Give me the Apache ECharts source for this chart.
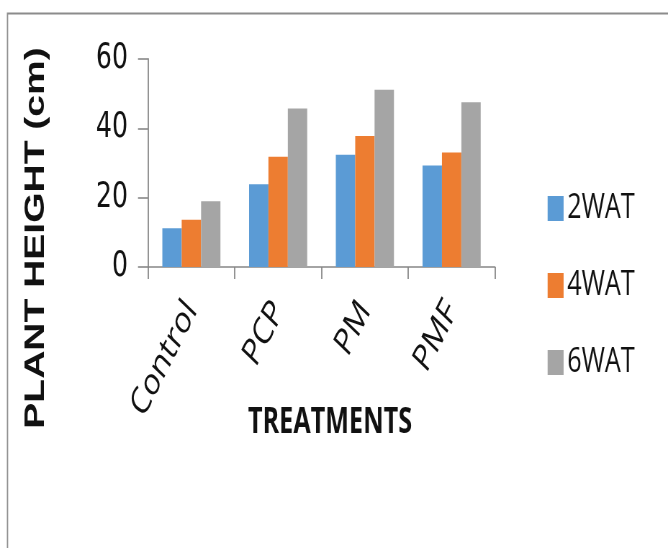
<!DOCTYPE html>
<html><head><meta charset="utf-8">
<script src="https://cdn.jsdelivr.net/npm/echarts@6/dist/echarts.min.js"></script>
<style>
html,body{margin:0;padding:0;background:#fff;overflow:hidden;width:668px;height:548px}
#c{width:928px;height:548px;transform:scaleX(0.71983);transform-origin:0 0}
</style>
</head><body><div id="c"></div>
<script>
const categories = ['Control', 'PCP', 'PM', 'PMF'];
const wat2 = [11.2, 23.9, 32.4, 29.3];
const wat4 = [13.6, 31.8, 37.8, 33.0];
const wat6 = [19.0, 45.7, 51.1, 47.5];
const seriesNames = ['2WAT', '4WAT', '6WAT'];
const yTicks = { min: 0, max: 60, interval: 20 };
const yTitle = 'PLANT HEIGHT (cm)';
const xTitle = 'TREATMENTS';

// the page is drawn on a wider canvas and squeezed horizontally by S
const S = 668 / 928;
const X = v => v / S;
const sans = '"Liberation Sans", Arial, sans-serif';
const open = '"Open Sans", "Noto Sans", sans-serif';
const chart = echarts.init(document.getElementById('c'), null, { renderer: 'canvas' });
const colors = ['#5B9BD5', '#ED7D31', '#A5A5A5'];
const data = [wat2, wat4, wat6];
const axisCol = '#878787';
chart.setOption({
  animation: false,
  color: colors,
  graphic: [
    { type: 'rect', silent: true,
      shape: { x: X(7.5), y: 13.5, width: 1000, height: 600 },
      style: { fill: 'none', stroke: '#8c8c8c', lineWidth: 1.8 } },
    { type: 'text', silent: true, x: X(36), y: 238, rotation: Math.PI / 2,
      style: { text: yTitle, font: 'bold 39px ' + sans, fill: '#111', align: 'center', verticalAlign: 'middle' } },
    { type: 'text', silent: true, x: X(330), y: 423,
      style: { text: xTitle, font: 'bold 35px ' + open, fill: '#111', align: 'center', verticalAlign: 'middle' } }
  ],
  grid: { left: X(148), top: 59, right: X(668 - 495), bottom: 281, containLabel: false },
  legend: {
    orient: 'vertical', left: X(544), top: 186,
    itemWidth: X(16), itemHeight: 25, itemGap: 42, itemTextGap: X(8),
    icon: 'rect',
    textStyle: { fontFamily: open, fontSize: 35, color: '#111' },
    data: seriesNames
  },
  xAxis: {
    type: 'category', data: categories,
    axisLine: { lineStyle: { color: axisCol, width: 1.6 } },
    axisTick: { show: true, length: 12, lineStyle: { color: axisCol, width: 1.8 } },
    axisLabel: { interval: 0, rotate: 55, margin: 38, fontFamily: open, fontSize: 38, color: '#111' }
  },
  yAxis: {
    type: 'value', min: yTicks.min, max: yTicks.max, interval: yTicks.interval,
    splitLine: { show: false },
    axisLine: { show: true, lineStyle: { color: axisCol, width: 1.8 } },
    axisTick: { show: true, length: X(10), lineStyle: { color: axisCol, width: 1.6 } },
    axisLabel: { margin: X(20), fontFamily: '"DejaVu Sans", sans-serif', fontSize: 35, color: '#111' }
  },
  series: seriesNames.map((n, i) => ({
    name: n, type: 'bar', data: data[i],
    barGap: '0%', barCategoryGap: '33%',
    itemStyle: { color: colors[i] }
  }))
});
</script></body></html>
